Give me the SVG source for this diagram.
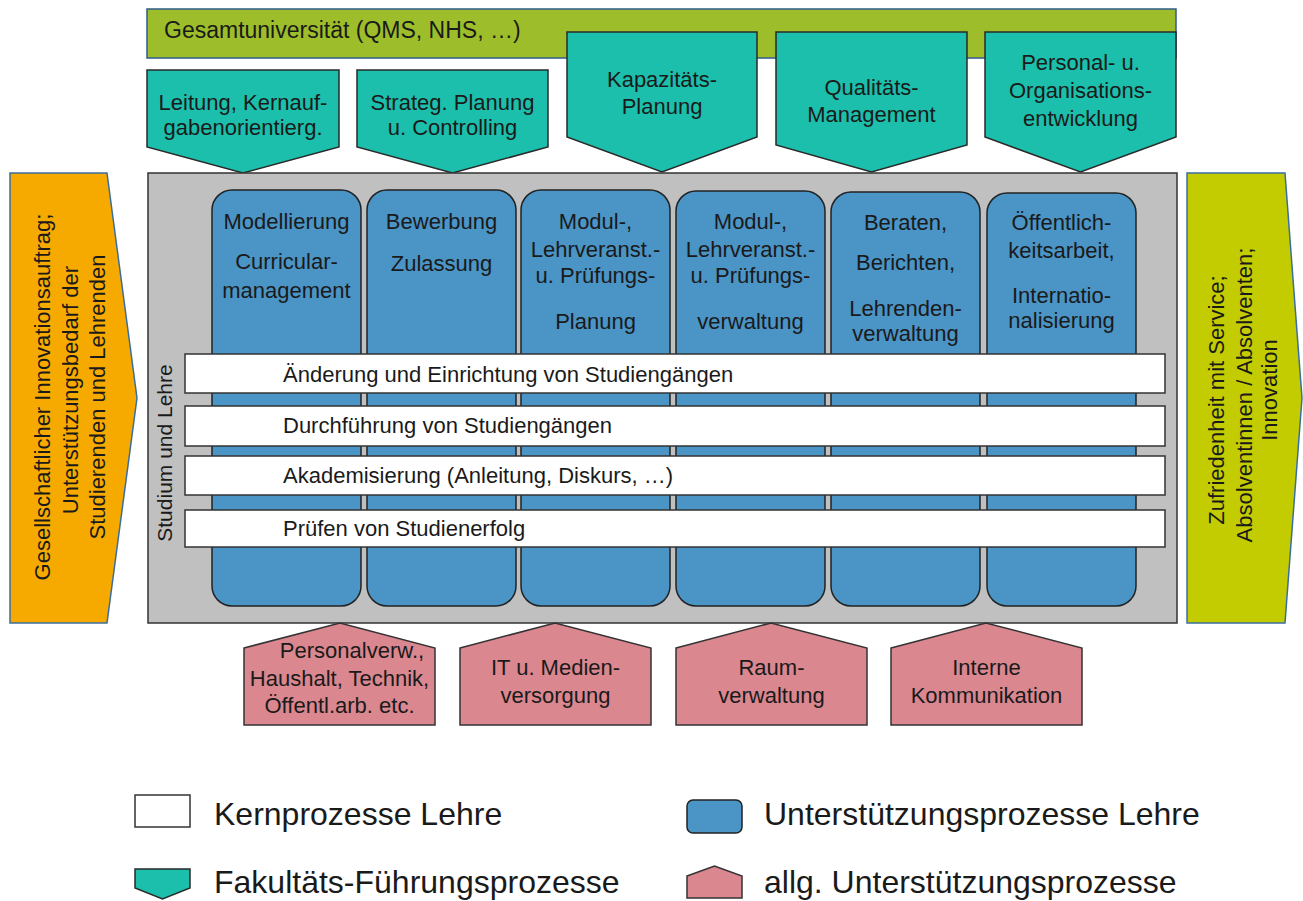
<svg xmlns="http://www.w3.org/2000/svg" width="1303" height="901" viewBox="0 0 1303 901">
<style>
.t{font-family:"Liberation Sans","DejaVu Sans",Arial,sans-serif;font-size:22px;fill:#1a1a1a}
.c{text-anchor:middle}
.teal{fill:#1bbfab;stroke:#2a2a2a;stroke-width:1.5}
.blue{fill:#4a94c6;stroke:#222;stroke-width:1.5}
.pink{fill:#da8790;stroke:#333;stroke-width:1.5}
.bar{fill:#fff;stroke:#333;stroke-width:1.5}
.lg{font-size:32px}
</style>
<rect width="1303" height="901" fill="#fff"/>
<g id="gesamtuni">
<rect x="147" y="9" width="1029" height="49" fill="#9dbe2a" stroke="#2f5d8a" stroke-width="1.5"/>
<text class="t" x="164" y="38" style="font-size:23px">Gesamtuniversität (QMS, NHS, …)</text>
</g>
<g id="leitung">
<path class="teal" d="M147,70 H339 V147 L243,173 L147,147 Z"/>
<text class="t c" x="243" y="110">Leitung, Kernauf-</text>
<text class="t c" x="243" y="135">gabenorientierg.</text>
</g>
<g id="strateg">
<path class="teal" d="M357,70 H548 V147 L452.5,173 L357,147 Z"/>
<text class="t c" x="452.5" y="110">Strateg. Planung</text>
<text class="t c" x="452.5" y="135">u. Controlling</text>
</g>
<g id="kapazitaet">
<path class="teal" d="M567,32 H757 V137 L662,172 L567,137 Z"/>
<text class="t c" x="662" y="87">Kapazitäts-</text>
<text class="t c" x="662" y="114">Planung</text>
</g>
<g id="qualitaet">
<path class="teal" d="M776,32 H967 V145 L871.5,172 L776,145 Z"/>
<text class="t c" x="871.5" y="95">Qualitäts-</text>
<text class="t c" x="871.5" y="122">Management</text>
</g>
<g id="personal">
<path class="teal" d="M985,32 H1176 V137 L1080.5,172 L985,137 Z"/>
<text class="t c" x="1080.5" y="70">Personal- u.</text>
<text class="t c" x="1080.5" y="98">Organisations-</text>
<text class="t c" x="1080.5" y="126">entwicklung</text>
</g>
<g id="input">
<path d="M10,173 H107 L137,398 L107,623 H10 Z" fill="#f6aa00" stroke="#3b6e9e" stroke-width="1.5"/>
<text class="t c" transform="translate(50,397) rotate(-90)">Gesellschaftlicher Innovationsauftrag;</text>
<text class="t c" transform="translate(78,390) rotate(-90)">Unterstützungsbedarf der</text>
<text class="t c" transform="translate(105,397) rotate(-90)">Studierenden und Lehrenden</text>
</g>
<g id="output">
<path d="M1187,173 H1285 L1302,398 L1285,623 H1187 Z" fill="#c3cc00" stroke="#3b6e9e" stroke-width="1.5"/>
<text class="t c" transform="translate(1224,400) rotate(-90)">Zufriedenheit mit Service;</text>
<text class="t c" transform="translate(1252,395) rotate(-90)">Absolventinnen / Absolventen;</text>
<text class="t c" transform="translate(1277,390) rotate(-90)">Innovation</text>
</g>
<g id="studium">
<rect x="148" y="173" width="1029" height="450" fill="#c0c0c0" stroke="#333" stroke-width="1.5"/>
</g>
<g id="modellierung">
<rect class="blue" x="212" y="190" width="149" height="416" rx="20"/>
<text class="t c" x="286.5" y="229">Modellierung</text>
<text class="t c" x="286.5" y="269">Curricular-</text>
<text class="t c" x="286.5" y="298">management</text>
</g>
<g id="bewerbung">
<rect class="blue" x="367" y="190" width="149" height="416" rx="20"/>
<text class="t c" x="441.5" y="229">Bewerbung</text>
<text class="t c" x="441.5" y="271">Zulassung</text>
</g>
<g id="planung">
<rect class="blue" x="521" y="190" width="149" height="416" rx="20"/>
<text class="t c" x="595.5" y="229">Modul-,</text>
<text class="t c" x="595.5" y="257">Lehrveranst.-</text>
<text class="t c" x="595.5" y="283">u. Prüfungs-</text>
<text class="t c" x="595.5" y="329">Planung</text>
</g>
<g id="verwaltung">
<rect class="blue" x="676" y="191" width="149" height="415" rx="20"/>
<text class="t c" x="750.5" y="229">Modul-,</text>
<text class="t c" x="750.5" y="257">Lehrveranst.-</text>
<text class="t c" x="750.5" y="283">u. Prüfungs-</text>
<text class="t c" x="750.5" y="329">verwaltung</text>
</g>
<g id="beraten">
<rect class="blue" x="831" y="192" width="149" height="414" rx="20"/>
<text class="t c" x="905.5" y="230">Beraten,</text>
<text class="t c" x="905.5" y="270">Berichten,</text>
<text class="t c" x="905.5" y="316">Lehrenden-</text>
<text class="t c" x="905.5" y="341">verwaltung</text>
</g>
<g id="oeffentlichkeit">
<rect class="blue" x="987" y="193" width="149" height="413" rx="20"/>
<text class="t c" x="1061.5" y="230">Öffentlich-</text>
<text class="t c" x="1061.5" y="258">keitsarbeit,</text>
<text class="t c" x="1061.5" y="303">Internatio-</text>
<text class="t c" x="1061.5" y="328">nalisierung</text>
</g>
<g id="aenderung">
<rect class="bar" x="185" y="354" width="980" height="39"/>
<text class="t" x="283" y="382">Änderung und Einrichtung von Studiengängen</text>
</g>
<g id="durchfuehrung">
<rect class="bar" x="185" y="406" width="980" height="40"/>
<text class="t" x="283" y="433">Durchführung von Studiengängen</text>
</g>
<g id="akademisierung">
<rect class="bar" x="185" y="456" width="980" height="39"/>
<text class="t" x="283" y="483">Akademisierung (Anleitung, Diskurs, …)</text>
</g>
<g id="pruefen">
<rect class="bar" x="185" y="510" width="980" height="37"/>
<text class="t" x="283" y="536">Prüfen von Studienerfolg</text>
</g>
<g id="studium-label">
<text class="t c" transform="translate(172,453) rotate(-90)" style="font-size:21px">Studium und Lehre</text>
</g>
<g id="personalverw">
<path class="pink" d="M244,648 L340,623 L435,648 V725 H244 Z"/>
<text class="t c" x="352" y="658">Personalverw.,</text>
<text class="t c" x="339.5" y="686">Haushalt, Technik,</text>
<text class="t c" x="339.5" y="713">Öffentl.arb. etc.</text>
</g>
<g id="it">
<path class="pink" d="M460,648 L555,623 L651,648 V725 H460 Z"/>
<text class="t c" x="555.5" y="675">IT u. Medien-</text>
<text class="t c" x="555.5" y="703">versorgung</text>
</g>
<g id="raum">
<path class="pink" d="M676,648 L771,623 L867,648 V725 H676 Z"/>
<text class="t c" x="771.5" y="675">Raum-</text>
<text class="t c" x="771.5" y="703">verwaltung</text>
</g>
<g id="kommunikation">
<path class="pink" d="M891,648 L986,623 L1082,648 V725 H891 Z"/>
<text class="t c" x="986.5" y="675">Interne</text>
<text class="t c" x="986.5" y="703">Kommunikation</text>
</g>
<g id="connectors"/>
<g id="legend">
<rect class="bar" x="135" y="795" width="55" height="32"/>
<text class="t lg" x="214" y="825">Kernprozesse Lehre</text>
<rect class="blue" x="687" y="800" width="55" height="33" rx="6"/>
<text class="t lg" x="764" y="825">Unterstützungsprozesse Lehre</text>
<path class="teal" d="M135,869 H190 V888 L162.5,899 L135,888 Z"/>
<text class="t lg" x="214" y="893">Fakultäts-Führungsprozesse</text>
<path class="pink" d="M687,876 L714.5,866 L742,876 V898 H687 Z"/>
<text class="t lg" x="764" y="893">allg. Unterstützungsprozesse</text>
</g>
</svg>
